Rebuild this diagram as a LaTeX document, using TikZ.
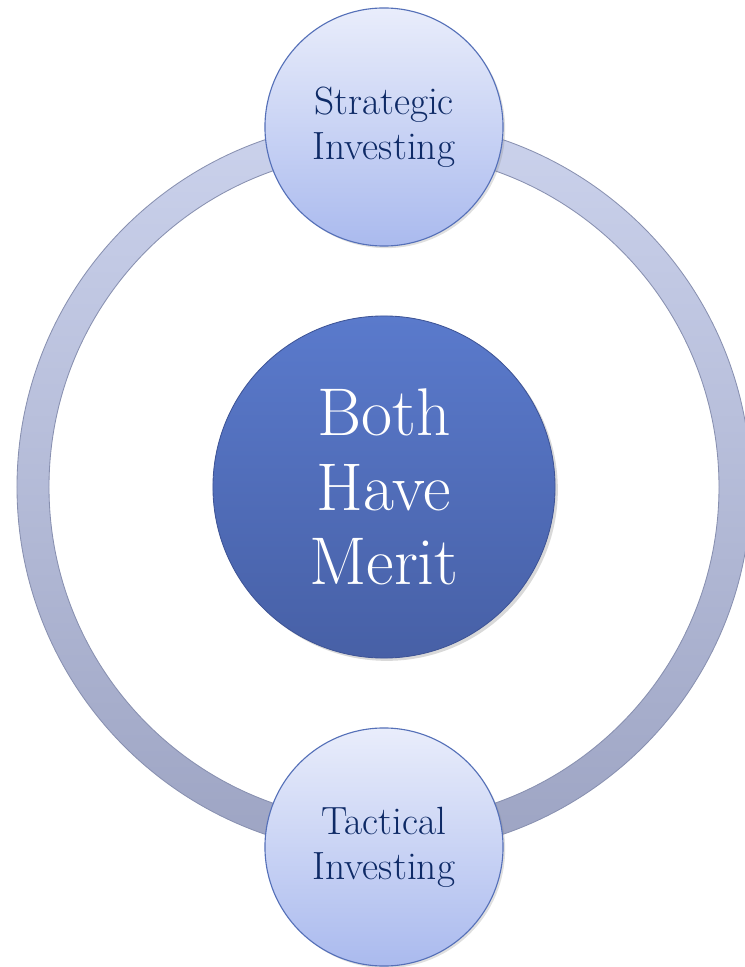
\documentclass[tikz,border=0pt]{standalone}
\usepackage{tikz}
\usetikzlibrary{shadows}

% 颜色定义
\definecolor{ringtop}{HTML}{CBD2EC}
\definecolor{ringbot}{HTML}{9DA4C3}
\definecolor{ringedge}{HTML}{8890B0}
\definecolor{balltop}{HTML}{E9EDFB}
\definecolor{ballbot}{HTML}{AABAEE}
\definecolor{ballline}{HTML}{5570B8}
\definecolor{balltext}{HTML}{0E2A66}
\definecolor{meritop}{HTML}{5A7ACC}
\definecolor{meribot}{HTML}{4760A6}
\definecolor{meriline}{HTML}{3E5496}

\tikzset{
	smallball/.style={circle, minimum size=5.95cm, inner sep=0pt, draw=ballline, line width=0.8pt,
		top color=balltop, bottom color=ballbot, text=balltext, align=center,
		font=\fontsize{28}{32}\selectfont,
		drop shadow={opacity=0.25, shadow xshift=1.5pt, shadow yshift=-1.5pt}},
	bigball/.style={circle, minimum size=8.55cm, inner sep=0pt, draw=meriline, line width=0.6pt,
		top color=meritop, bottom color=meribot, text=white, align=center,
		font=\fontsize{48}{53}\selectfont,
		drop shadow={opacity=0.3, shadow xshift=2pt, shadow yshift=-2pt}}
}

\begin{document}
\begin{tikzpicture}[x=0.025cm, y=0.025cm]
	
	% 定义圆环的参数
	\def\R{351} % 圆环中线半径
	\def\w{16} % 圆环半宽
	\def\d{360} % 小圆圆心到中心的距离
	
	% 固定画面范围
	\useasboundingbox (-384,-480) rectangle (360,487);
	
	% 绘制圆环 (上浅下深)
	\shade[top color=ringtop, bottom color=ringbot, even odd rule]
		(0,0) circle (\R+\w) (0,0) circle (\R-\w);
	\draw[ringedge, line width=0.6pt] (0,0) circle (\R+\w);
	\draw[ringedge, line width=0.6pt] (0,0) circle (\R-\w);
	
	% 绘制上下两个小圆
	\node[smallball] (strat) at (0,\d) {Strategic\\Investing};
	\node[smallball] (tact) at (0,-\d) {Tactical\\Investing};
	
	% 绘制中心圆
	\node[bigball] (merit) at (0,0) {Both\\Have\\Merit};
	
\end{tikzpicture}
\end{document}
